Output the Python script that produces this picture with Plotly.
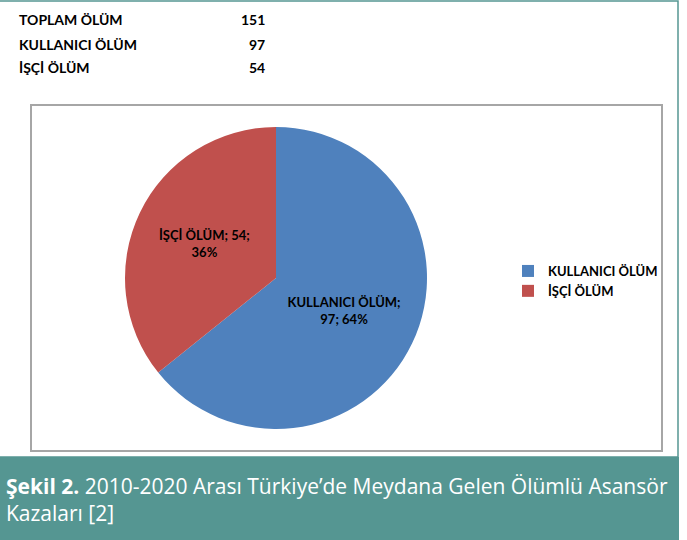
import plotly.graph_objects as go

categories = ["KULLANICI ÖLÜM", "İŞÇİ ÖLÜM"]
values = [97, 54]
total_label = "TOPLAM ÖLÜM"
colors = ["#4F81BD", "#C0504D"]
caption_bold = "Şekil 2."
caption_rest = " 2010-2020 Arası Türkiye’de Meydana Gelen Ölümlü Asansör<br>Kazaları [2]"

W, H = 687, 540
def px(x):
    return x / W
def py(y):
    return 1 - y / H

cx, cy, r = 276, 278, 151

fig = go.Figure()
fig.add_trace(go.Pie(
    labels=categories,
    values=values,
    sort=False,
    direction="clockwise",
    rotation=0,
    marker=dict(colors=colors, line=dict(width=0)),
    textinfo="label+value+percent",
    texttemplate=["%{label};<br>%{value}; %{percent:.0%}", "%{label}; %{value};<br>%{percent:.0%}"],
    textposition="inside",
    insidetextorientation="horizontal",
    textfont=dict(family="Lato", size=13, color="#000000", weight="bold"),
    hoverinfo="skip",
    domain=dict(x=[px(cx - r), px(cx + r)], y=[py(cy + r), py(cy - r)]),
    showlegend=True,
))

shapes = [
    # outer teal frame
    dict(type="rect", xref="paper", yref="paper", x0=px(-5), x1=px(678), y0=py(457), y1=py(1),
         line=dict(color="#559692", width=1.5), fillcolor="rgba(0,0,0,0)", layer="below"),
    # inner chart box
    dict(type="rect", xref="paper", yref="paper", x0=px(31), x1=px(662), y0=py(451), y1=py(105),
         line=dict(color="#A6A6A6", width=2), fillcolor="#FFFFFF", layer="below"),
    # caption band
    dict(type="rect", xref="paper", yref="paper", x0=px(-2), x1=px(679), y0=py(542), y1=py(457),
         line=dict(width=0), fillcolor="#559692", layer="below"),
]

annotations = []
rows = [(total_label, sum(values))] + list(zip(categories, values))
for i, (lab, val) in enumerate(rows):
    yy = 20 + i * 24
    annotations.append(dict(xref="paper", yref="paper", x=px(17), y=py(yy), text=f"<b>{lab}</b>",
                            showarrow=False, xanchor="left", yanchor="middle",
                            font=dict(family="Lato", size=14, color="#000000")))
    annotations.append(dict(xref="paper", yref="paper", x=px(267), y=py(yy), text=f"<b>{val}</b>",
                            showarrow=False, xanchor="right", yanchor="middle",
                            font=dict(family="Lato", size=14, color="#000000")))

annotations.append(dict(xref="paper", yref="paper", x=px(4), y=py(499),
                        text=f"<b>{caption_bold}</b>{caption_rest}", showarrow=False,
                        xanchor="left", yanchor="middle", align="left",
                        font=dict(family="Open Sans", size=21, color="#FFFFFF")))

fig.update_layout(
    width=W, height=H,
    margin=dict(l=0, r=0, t=0, b=0),
    paper_bgcolor="#FFFFFF",
    plot_bgcolor="#FFFFFF",
    shapes=shapes,
    annotations=annotations,
    legend=dict(x=px(508), y=py(256), xanchor="left", yanchor="top",
                font=dict(family="Lato", size=13, color="#000000", weight="bold"),
                itemwidth=30, tracegroupgap=0, bgcolor="rgba(0,0,0,0)"),
)

fig.write_html("out.html", config={"displayModeBar": False},
               post_script="document.body.style.margin='0';document.body.style.overflow='hidden';")
